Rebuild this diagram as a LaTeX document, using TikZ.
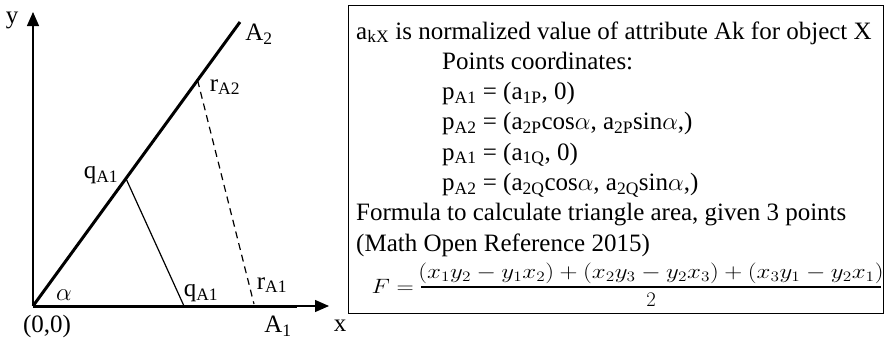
\documentclass[tikz,border=0pt]{standalone}
\usepackage{amsmath}
\usepackage{graphicx}
\usepackage{fontspec}
\setmainfont{Liberation Serif}
\usetikzlibrary{arrows.meta,calc}
\begin{document}
\begin{tikzpicture}[x=1pt,y=-1pt,
  thickax/.style={line width=3pt},
  thinax/.style={line width=1.3pt},
  arr/.style={-{Triangle[length=14pt,width=12pt]}},
  lbl/.style={inner sep=0pt,font=\fontsize{25}{28}\selectfont},
  txt/.style={inner sep=0pt,anchor=base west,font=\fontsize{25}{28}\selectfont},
  mth/.style={inner sep=0pt,anchor=base,font=\fontsize{21}{24}\selectfont}]
\useasboundingbox (0,0) rectangle (885,340);
% left diagram
\coordinate (O) at (33,306);
\coordinate (Ytop) at (33,12);
\coordinate (Xend) at (297,306);
\coordinate (Xtip) at (329,306);
\coordinate (A2end) at (240,22);
\coordinate (rA2) at ($(O)!0.795!(A2end)$);
\coordinate (qA2) at ($(O)!0.449!(A2end)$);
\coordinate (qA1) at (184,306);
\coordinate (rA1) at (254,304);
\draw[thinax,arr] (O) -- (Ytop);
\draw[thinax,arr] (O) -- (Xtip);
\draw[thickax] (O) -- (Xend);
\draw[thickax] (O) -- (A2end);
\draw[line width=1.2pt] (qA2) -- (qA1);
\draw[line width=1.2pt,dash pattern=on 7pt off 5pt] (rA2) -- (rA1);
\node[lbl] (ylab) at (12,20) {y};
\node[lbl] (xlab) at (340,326) {x};
\node[lbl] (olab) at (47,326) {(0,0)};
\node[lbl] (A1lab) at (278,326) {A\textsubscript{1}};
\node[lbl] (A2lab) at (259,34) {A\textsubscript{2}};
\node[lbl] (alab) at (64,295) {$\alpha$};
\node[lbl] (qA1lab) at (201,293) {q\textsubscript{A1}};
\node[lbl] (rA1lab) at (272,285) {r\textsubscript{A1}};
\node[lbl] (qA2lab) at (101,175) {q\textsubscript{A1}};
\node[lbl] (rA2lab) at (225,87) {r\textsubscript{A2}};
% box
\node[draw,line width=1pt,minimum width=535pt,minimum height=308pt,anchor=north west,inner sep=0pt] (box) at (348,5) {};
\node[txt] (l1) at (356,39) {a\textsubscript{kX} is normalized value of attribute Ak for object X};
\node[txt] (l2) at (442,69.3) {Points coordinates:};
\node[txt] (l3) at (442,99.6) {p\textsubscript{A1} = (a\textsubscript{1P}, 0)};
\node[txt] (l4) at (442,129.9) {p\textsubscript{A2} = (a\textsubscript{2P}cos$\alpha$, a\textsubscript{2P}sin$\alpha$,)};
\node[txt] (l5) at (442,160.2) {p\textsubscript{A1} = (a\textsubscript{1Q}, 0)};
\node[txt] (l6) at (442,190.5) {p\textsubscript{A2} = (a\textsubscript{2Q}cos$\alpha$, a\textsubscript{2Q}sin$\alpha$,)};
\node[txt] (l7) at (356,220.8) {Formula to calculate triangle area, given 3 points};
\node[txt] (l8) at (356,251.1) {(Math Open Reference 2015)};
% formula
\coordinate (barL) at (421,287);
\coordinate (barR) at (881,287);
\draw[line width=1.2pt] (barL) -- (barR);
\node[mth,anchor=base east] (Feq) at (414,293) {\scalebox{1.15}[1]{$F=$}};
\node[mth] (num) at (651,278)
  {\scalebox{1.2}[1]{$(x_1y_2-y_1x_2)+(x_2y_3-y_2x_3)+(x_3y_1-y_2x_1)$}};
\node[mth] (den) at (651,306) {$2$};
\end{tikzpicture}
\end{document}
